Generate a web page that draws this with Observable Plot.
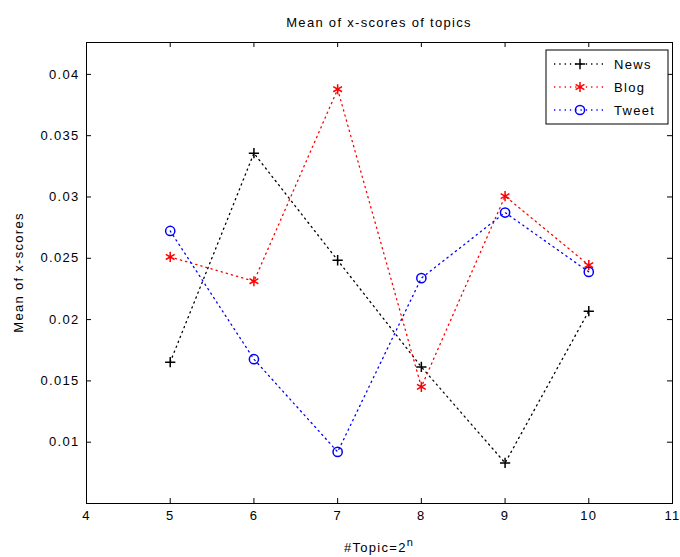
<!DOCTYPE html>
<html><head><meta charset="utf-8">
<script src="https://cdn.jsdelivr.net/npm/d3@7"></script>
<script src="https://cdn.jsdelivr.net/npm/@observablehq/plot@0.6"></script>
<style>
body{margin:0;background:#fff}
svg{display:block}
svg text{letter-spacing:1.3px}
</style>
</head><body><div id="chart"></div>
<script>
const topics = [5, 6, 7, 8, 9, 10];
const news  = [0.01653, 0.03357, 0.02484, 0.01614, 0.00831, 0.02069];
const blog  = [0.02511, 0.02313, 0.03879, 0.01451, 0.03007, 0.02444];
const tweet = [0.02723, 0.01677, 0.00921, 0.02338, 0.02873, 0.02389];
const seriesNames = ["News", "Blog", "Tweet"];
const seriesColors = ["#000000", "#ff0000", "#0000ff"];
const seriesSymbols = ["plus", "asterisk", "circle"];
const xTicks = [4, 5, 6, 7, 8, 9, 10, 11];
const yTicks = [0.01, 0.015, 0.02, 0.025, 0.03, 0.035, 0.04];
const titleText = "Mean of x-scores of topics";
const yLabelText = "Mean of x-scores";

const W = 680, H = 557, mL = 86, mR = 8, mT = 42, mB = 54;
const plotW = W - mL - mR, plotH = H - mT - mB;

const seriesValues = [news, blog, tweet];
const rows = [];
seriesNames.forEach((s, i) => topics.forEach((t, j) => rows.push({series: s, topic: t, value: seriesValues[i][j]})));

const dotR = {plus: 3.4, asterisk: 4.8, circle: 4.6};

const marks = [
  Plot.frame({stroke: "black", strokeWidth: 1}),
  Plot.tickX(xTicks, {x: d => d, insetTop: plotH - 5, stroke: "black"}),
  Plot.tickX(xTicks, {x: d => d, insetBottom: plotH - 5, stroke: "black"}),
  Plot.tickY(yTicks, {y: d => d, insetRight: plotW - 5, stroke: "black"}),
  Plot.tickY(yTicks, {y: d => d, insetLeft: plotW - 5, stroke: "black"}),
  Plot.axisX({ticks: xTicks, tickSize: 0, tickPadding: 7, tickFormat: d => String(d), label: null}),
  Plot.axisY({ticks: yTicks, tickSize: 0, tickPadding: 7, tickFormat: d => String(d), label: null}),
  Plot.line(rows, {x: "topic", y: "value", z: "series", stroke: "series", strokeWidth: 1.3, strokeDasharray: "1.3,4"})
];
seriesNames.forEach((s, i) => {
  marks.push(Plot.dot(rows.filter(r => r.series === s), {
    x: "topic", y: "value", symbol: () => seriesSymbols[i], r: dotR[seriesSymbols[i]],
    stroke: seriesColors[i], fill: "none", strokeWidth: 1.5
  }));
});

const chart = Plot.plot({
  width: W, height: H,
  marginLeft: mL, marginRight: mR, marginTop: mT, marginBottom: mB,
  style: {fontFamily: "'Liberation Sans', Arial, sans-serif", fontSize: "13px", color: "#000", background: "#fff"},
  x: {domain: [4, 11]},
  y: {domain: [0.005, 0.0426]},
  color: {domain: seriesNames, range: seriesColors},
  symbol: {domain: seriesSymbols, range: seriesSymbols},
  marks
});

document.getElementById("chart").appendChild(chart);

const svg = d3.select(chart);
const cx = mL + plotW / 2;
svg.append("text").attr("x", cx).attr("y", 27).attr("text-anchor", "middle")
  .attr("font-size", 13).attr("fill", "#000").text(titleText);
const xl = svg.append("text").attr("x", cx).attr("y", 552).attr("text-anchor", "middle")
  .attr("font-size", 13).attr("fill", "#000");
xl.append("tspan").text("#Topic=2");
xl.append("tspan").attr("dy", -6).attr("font-size", 11).text("n");
svg.append("text").attr("transform", `translate(23,${mT + plotH / 2}) rotate(-90)`)
  .attr("text-anchor", "middle").attr("font-size", 13).attr("fill", "#000").text(yLabelText);

// legend
const lg = svg.append("g");
lg.append("rect").attr("x", 546).attr("y", 50).attr("width", 122).attr("height", 74)
  .attr("fill", "#fff").attr("stroke", "#000");
const symMap = {plus: d3.symbolPlus, asterisk: d3.symbolAsterisk, circle: d3.symbolCircle};
seriesNames.forEach((s, i) => {
  const y = 64 + i * 23;
  lg.append("line").attr("x1", 554).attr("x2", 606).attr("y1", y).attr("y2", y)
    .attr("stroke", seriesColors[i]).attr("stroke-width", 1.3).attr("stroke-dasharray", "1.3,4");
  const r = dotR[seriesSymbols[i]];
  lg.append("path").attr("transform", `translate(580,${y})`)
    .attr("d", d3.symbol(symMap[seriesSymbols[i]], r * r * Math.PI)())
    .attr("fill", "none").attr("stroke", seriesColors[i]).attr("stroke-width", 1.5);
  lg.append("text").attr("x", 614).attr("y", y).attr("dy", "0.35em").attr("text-anchor", "start")
    .attr("font-size", 13).attr("fill", "#000").text(s);
});
</script>
</body></html>
